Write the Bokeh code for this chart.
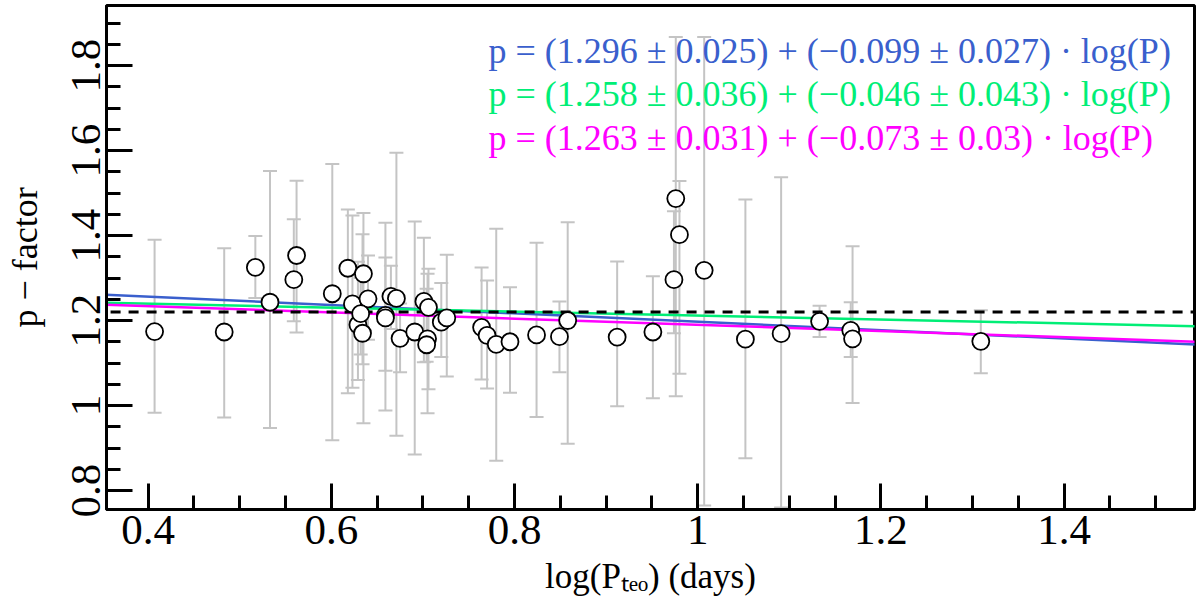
import numpy as np
from bokeh.plotting import figure
from bokeh.models import (ColumnDataSource, Whisker, TeeHead, Label, FixedTicker,
                          CustomJSTickFormatter, Range1d)
from bokeh.embed import file_html
from bokeh.resources import INLINE

log_p = [0.407, 0.483, 0.517, 0.533, 0.559, 0.562, 0.601, 0.618, 0.623, 0.635,
         0.640, 0.629, 0.634, 0.632, 0.659, 0.659, 0.665, 0.671, 0.675, 0.691,
         0.701, 0.706, 0.705, 0.704, 0.720, 0.726, 0.764, 0.770, 0.780, 0.795,
         0.824, 0.849, 0.858, 0.912, 0.951, 0.974, 0.976, 0.980, 1.007, 1.052,
         1.091, 1.133, 1.167, 1.169, 1.309]
p_factor = [1.174, 1.173, 1.325, 1.243, 1.296, 1.353, 1.263, 1.323, 1.239, 1.310,
            1.251, 1.190, 1.170, 1.216, 1.212, 1.206, 1.257, 1.252, 1.158, 1.173,
            1.245, 1.231, 1.157, 1.143, 1.196, 1.206, 1.184, 1.165, 1.144, 1.150,
            1.166, 1.162, 1.200, 1.161, 1.173, 1.296, 1.487, 1.402, 1.318, 1.156,
            1.169, 1.198, 1.177, 1.157, 1.151]
p_upper = [1.390, 1.370, 1.399, 1.552, 1.438, 1.529, 1.568, 1.461, 1.447, 1.453,
           1.353, 1.338, 1.403, 1.300, 1.430, 1.348, 1.329, 1.595, 1.240, 1.433,
           1.395, 1.322, 1.310, 1.275, 1.288, 1.355, 1.325, 1.294, 1.416, 1.278,
           1.383, 1.245, 1.431, 1.339, 1.304, 1.457, 1.867, 1.528, 1.867, 1.485,
           1.537, 1.235, 1.243, 1.375, 1.224]
p_lower = [0.983, 0.972, 1.253, 0.947, 1.198, 1.172, 0.918, 1.029, 1.042, 0.958,
           1.155, 1.060, 1.097, 1.120, 0.988, 1.082, 1.180, 0.929, 1.078, 0.885,
           1.102, 1.038, 0.982, 1.103, 1.114, 1.068, 1.061, 1.040, 0.870, 1.030,
           0.973, 1.078, 0.910, 0.998, 1.017, 1.170, 1.022, 1.075, 0.765, 0.876,
           0.760, 1.161, 1.114, 1.006, 1.076]

# fitted relations (end points across the plot)
fit_x = [0.30, 1.60]
fit_blue = [1.266, 1.138]
fit_green = [1.244, 1.184]
fit_magenta = [1.241, 1.146]
mean_p = [1.22, 1.22]

fit_labels = [
    "p = (1.296 \u00b1 0.025)  +  (\u22120.099 \u00b1 0.027) \u00b7 log(P)",
    "p = (1.258 \u00b1 0.036)  +  (\u22120.046 \u00b1 0.043) \u00b7 log(P)",
    "p = (1.263 \u00b1 0.031)  +  (\u22120.073 \u00b1 0.03) \u00b7 log(P)",
]
blue = "#3a5fcd"
green = "#00ee76"
magenta = "#ff00ff"
fit_colors = [blue, green, magenta]

x_ticks = [0.4, 0.6, 0.8, 1.0, 1.2, 1.4]
y_ticks = [0.8, 1.0, 1.2, 1.4, 1.6, 1.8]

FONT = "Liberation Serif"

p = figure(width=1200, height=608, x_range=Range1d(0.3545, 1.5423), y_range=Range1d(0.7553, 1.9412),
           output_backend="svg", toolbar_location=None, tools="",
           min_border_left=106, min_border_right=6, min_border_top=5, min_border_bottom=99)
p.grid.visible = False
p.outline_line_color = "black"
p.outline_line_width = 3
p.background_fill_color = "white"

fmt = CustomJSTickFormatter(code="return tick.toFixed(1).replace(/\\.0$/, '');")
p.xaxis.ticker = FixedTicker(ticks=x_ticks, minor_ticks=list(np.round(np.arange(0.35, 1.56, 0.05), 2)))
p.yaxis.ticker = FixedTicker(ticks=y_ticks, minor_ticks=list(np.round(np.arange(0.75, 1.96, 0.05), 2)))
for ax in (p.xaxis, p.yaxis):
    ax.formatter = fmt
    ax.axis_line_width = 3
    ax.major_tick_line_width = 3
    ax.minor_tick_line_width = 3
    ax.major_tick_in = 26
    ax.major_tick_out = 0
    ax.minor_tick_in = 14
    ax.minor_tick_out = 0
    ax.major_label_text_font = FONT
    ax.major_label_text_font_size = "43px"
    ax.major_label_text_color = "black"
    ax.axis_label_text_font = FONT
    ax.axis_label_text_font_size = "36px"
    ax.axis_label_text_font_style = "normal"
    ax.axis_label_text_color = "black"
p.xaxis.axis_label_text_font_size = "35px"
p.xaxis.major_label_standoff = 6
p.yaxis.major_label_standoff = 6
p.xaxis.axis_label_standoff = 10
p.yaxis.axis_label_standoff = 25
p.yaxis.major_label_orientation = "parallel"
p.xaxis.axis_label = "log(P\u209c\u2091\u2092) (days)"
p.yaxis.axis_label = "p \u2212 factor"

src = ColumnDataSource(dict(x=log_p, y=p_factor, hi=p_upper, lo=p_lower))
grey = "#c4c4c4"
err = Whisker(source=src, base="x", upper="hi", lower="lo", line_color=grey, line_width=2,
              upper_head=TeeHead(size=14, line_color=grey, line_width=2),
              lower_head=TeeHead(size=14, line_color=grey, line_width=2), level="underlay")
p.add_layout(err)

p.line(fit_x, fit_blue, line_color=blue, line_width=2.5)
p.line(fit_x, fit_green, line_color=green, line_width=2.5)
p.line(fit_x, fit_magenta, line_color=magenta, line_width=2.5)
p.line(fit_x, mean_p, line_color="black", line_width=3, line_dash="10 8")

p.scatter("x", "y", source=src, size=17, fill_color="white", line_color="black", line_width=1.8)

# fit relations
for i, (txt, col) in enumerate(zip(fit_labels, fit_colors)):
    p.add_layout(Label(x=382, y=459 - i * 43.5, x_units="screen", y_units="screen", text=txt,
                       text_font=FONT, text_font_size="36px", text_color=col,
                       text_align="left", text_baseline="middle"))

open("out.html", "w").write(file_html(p, INLINE))
